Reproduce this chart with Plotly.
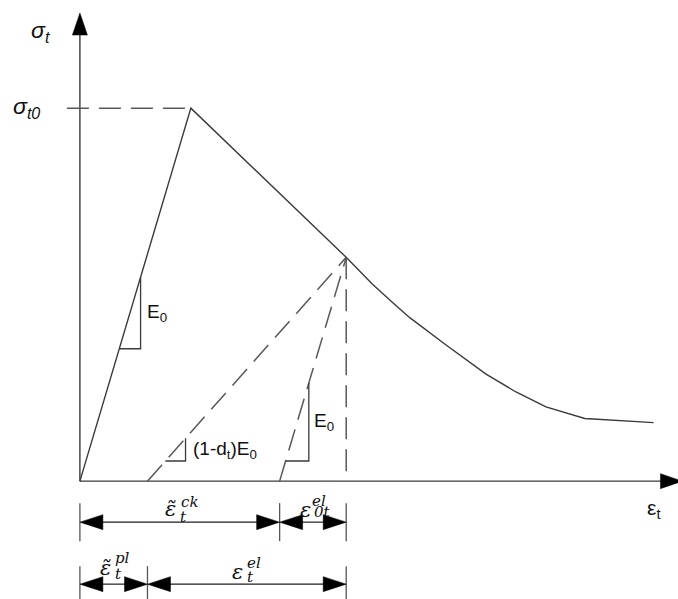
import plotly.graph_objects as go

# Tension softening curve, normalised: stress / sigma_t0, strain / peak strain
strain = [0.0, 1.0, 2.40, 2.63, 2.81, 2.97, 3.30, 3.66, 3.93, 4.20, 4.55, 5.17]
stress = [0.0, 1.0, 0.60, 0.530, 0.481, 0.439, 0.365, 0.287, 0.239, 0.199, 0.168, 0.157]

E0 = 1.0          # initial modulus (normalised)
dt = 0.665        # tensile damage at the unloading point
unload_idx = 2    # curve point where unloading starts

# slope triangles: (stress of the horizontal leg, strain of the vertical leg)
tri_E0 = (0.355, 0.547)
tri_dmg = (0.054, 0.952)
tri_E0u = (0.054, 2.063)

# axis extents (tip of each axis arrow)
x_axis_end = 5.43
y_axis_end = 1.255

# ---- derived quantities -------------------------------------------------
sig_t0 = max(stress)
eps_t0 = strain[stress.index(sig_t0)]
eps_u, sig_u = strain[unload_idx], stress[unload_idx]
eps_ck = eps_u - sig_u / E0                    # cracking strain
eps_pl = eps_u - sig_u / ((1 - dt) * E0)       # plastic strain

# ---- canvas / scale -----------------------------------------------------
W, H = 678, 599
x_range = [-0.72, 5.39]
y_range = [-0.316, 1.29]
SX = W / (x_range[1] - x_range[0])   # px per strain unit
SY = H / (y_range[1] - y_range[0])   # px per stress unit

CURVE = "#3a3a3a"
DASH = "#585858"
TICK = "#555555"
DIM = "#1e1e1e"
TXT = "#111111"
DASH_STYLE = "22px,10px"

fig = go.Figure()


def seg(xs, ys, color=CURVE, width=1.4, dash=None):
    fig.add_trace(go.Scatter(x=xs, y=ys, mode="lines", hoverinfo="skip",
                             line=dict(color=color, width=width, dash=dash)))


def head(tx, ty, ux, uy, length=22, half=7.5):
    """Filled arrowhead with tip at (tx, ty) pointing along pixel direction (ux, uy)."""
    bx, by = -ux * length, -uy * length
    px, py = -uy * half, ux * half
    xs = [tx, tx + (bx + px) / SX, tx + (bx - px) / SX, tx]
    ys = [ty, ty + (by + py) / SY, ty + (by - py) / SY, ty]
    fig.add_trace(go.Scatter(x=xs, y=ys, mode="lines", fill="toself",
                             fillcolor="black", hoverinfo="skip",
                             line=dict(color="black", width=0.5)))


# axes
seg([0, 0], [0, y_axis_end - 20 / SY], color=CURVE, width=1.4)
head(0, y_axis_end, 0, 1)
seg([0, x_axis_end - 20 / SX], [0, 0], color=CURVE, width=1.4)
head(x_axis_end, 0, 1, 0)

# peak stress reference line
seg([-13 / SX, eps_t0], [sig_t0, sig_t0], color=DASH, width=1.5, dash=DASH_STYLE)

# stress-strain curve
seg(strain, stress, color=CURVE, width=1.4)

# unloading paths and vertical projection
seg([eps_pl, eps_u], [0, sig_u], color=DASH, width=1.5, dash=DASH_STYLE)
seg([eps_ck, eps_u], [0, sig_u], color=DASH, width=1.5, dash=DASH_STYLE)
seg([eps_u, eps_u], [sig_u, 0], color=DASH, width=1.5, dash=DASH_STYLE)

# slope triangles
s1, e1 = tri_E0
seg([s1 / E0, e1, e1], [s1, s1, e1 * E0], color=CURVE, width=1.3)
s2, e2 = tri_dmg
k = (1 - dt) * E0
seg([eps_pl + s2 / k, e2, e2], [s2, s2, k * (e2 - eps_pl)], color=CURVE, width=1.3)
s3, e3 = tri_E0u
seg([eps_ck + s3 / E0, e3, e3], [s3, s3, E0 * (e3 - eps_ck)], color=CURVE, width=1.3)


# dimension lines below the strain axis
def dimension(a, b, row_px):
    y = -row_px / SY
    seg([a + 20 / SX, b - 20 / SX], [y, y], color=DIM, width=1.2)
    head(a, y, -1, 0, length=23)
    head(b, y, 1, 0, length=23)


def ext(x, top_px, bot_px):
    seg([x, x], [-top_px / SY, -bot_px / SY], color=TICK, width=1.3)


ROW1, ROW2 = 41, 103
for xv in (0, eps_ck, eps_u):
    ext(xv, 22, 60)
for xv in (0, eps_pl, eps_u):
    ext(xv, 85, 125)
dimension(0, eps_ck, ROW1)
dimension(eps_ck, eps_u, ROW1)
dimension(0, eps_pl, ROW2)
dimension(eps_pl, eps_u, ROW2)


def text(s, x, y, xshift=0, yshift=0, size=18, family="Liberation Sans",
         xanchor="center", yanchor="middle"):
    fig.add_annotation(text=s, x=x, y=y, xshift=xshift, yshift=yshift,
                       showarrow=False, xanchor=xanchor, yanchor=yanchor,
                       font=dict(size=size, family=family, color=TXT))


# axis labels
text("<i>σ<sub>t</sub></i>", 0, y_axis_end, xshift=-27, yshift=-18, size=23,
     xanchor="right")
text("<i>σ<sub>t0</sub></i>", 0, sig_t0, xshift=-38, yshift=1, size=23,
     xanchor="right")
text("ε<sub>t</sub>", x_axis_end - 29 / SX, 0, yshift=-28, size=21)

# slope labels
text("E<sub>0</sub>", e1, (s1 + e1 * E0) / 2, xshift=4, size=19, xanchor="left")
text("(1-d<sub>t</sub>)E<sub>0</sub>", e2, (s2 + k * (e2 - eps_pl)) / 2,
     xshift=5, size=19, xanchor="left")
text("E<sub>0</sub>", e3, (s3 + E0 * (e3 - eps_ck)) / 2, xshift=3, size=19,
     xanchor="left")

# strain component labels (base symbol + subscript + superscript)
MATH = "DejaVu Serif"


def strain_label(cx, base, sub, sup, base_dx, base_dy, sub_dx, sub_dy,
                 sup_dx, sup_dy):
    text(f"<i>{base}</i>", cx, 0, xshift=base_dx, yshift=-base_dy, size=21,
         family=MATH, xanchor="right")
    text(f"<i>{sub}</i>", cx, 0, xshift=sub_dx, yshift=-sub_dy, size=15,
         family=MATH, xanchor="left")
    text(f"<i>{sup}</i>", cx, 0, xshift=sup_dx, yshift=-sup_dy, size=15,
         family=MATH, xanchor="left")


TILDE_EPS = "ε\u0303"
strain_label(eps_ck / 2, TILDE_EPS, "t", "ck", -2, 28, -2, 36, -1, 21)
strain_label((eps_ck + eps_u) / 2, "ε", "0t", "el", 0, 29, -1, 31, -3, 20)
strain_label(eps_pl / 2, TILDE_EPS, "t", "pl", -1, 87, -1, 93, -1, 77)
strain_label((eps_pl + eps_u) / 2, "ε", "t", "el", -2, 91, -2, 96, -2, 82)

fig.update_layout(
    width=W, height=H,
    margin=dict(l=0, r=0, t=0, b=0),
    paper_bgcolor="white", plot_bgcolor="white",
    showlegend=False,
    xaxis=dict(range=x_range, visible=False, fixedrange=True),
    yaxis=dict(range=y_range, visible=False, fixedrange=True),
)

fig.write_html("out.html")
